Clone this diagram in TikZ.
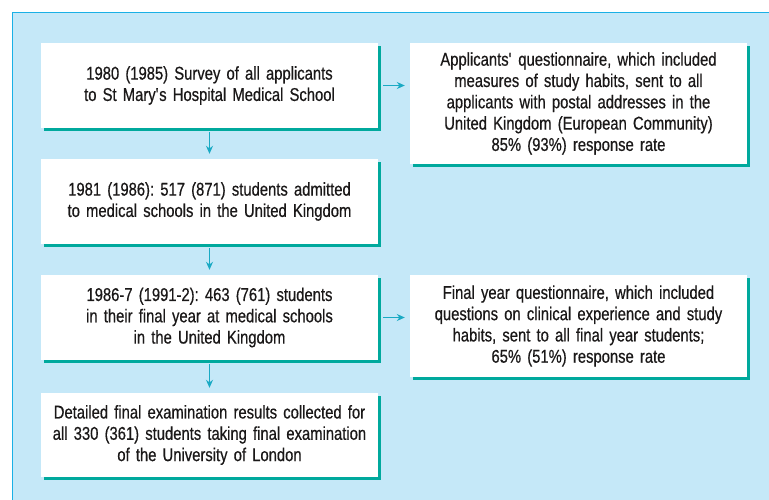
\documentclass[tikz,border=0pt]{standalone}
\usepackage{fontspec}
\setmainfont{Liberation Sans}[FakeStretch=0.8, FakeBold=0.5]
\usetikzlibrary{arrows.meta}
\definecolor{bgblue}{HTML}{C5E8F8}
\definecolor{frameblue}{HTML}{1AB0E6}
\definecolor{shadowteal}{HTML}{00A99D}
\definecolor{arrowteal}{HTML}{1AAAC4}
\definecolor{txt}{HTML}{1A1818}
\frenchspacing
\tikzset{
  flowbox/.style={fill=white, inner sep=0pt, text=txt, align=center,
    font=\fontsize{18.5}{21.3}\selectfont, text width=#1},
  flowbox/.default=330pt,
  arr/.style={draw=arrowteal, line width=1pt, -{Stealth[length=8pt,width=7pt]}},
}
\newcommand{\shadowbox}[6]{% name, cx, cy, w, h, text
  \fill[shadowteal] ({#2-#4/2+3},{#3-#5/2+3}) rectangle ({#2+#4/2+3},{#3+#5/2+3});
  \node[flowbox, minimum width=#4pt, minimum height=#5pt] (#1) at (#2,#3) {#6};
}
\begin{document}
\begin{tikzpicture}[x=1pt,y=-1pt]
\useasboundingbox (0,0) rectangle (769,500);
\fill[white] (0,0) rectangle (769,500);
\fill[bgblue] (12.5,12.5) rectangle (769,500);
\draw[frameblue, line width=1.5pt] (12.5,500) -- (12.5,12.5) -- (769,12.5);

\shadowbox{b1}{209.5}{85.5}{337}{85}{1980 (1985) Survey of all applicants\\to St Mary\textquotesingle s Hospital Medical School}
\shadowbox{b2}{209.5}{201.5}{337}{85}{1981 (1986): 517 (871) students admitted\\to medical schools in the United Kingdom}
\shadowbox{b3}{209.5}{317.5}{337}{85}{1986-7 (1991-2): 463 (761) students\\in their final year at medical schools\\in the United Kingdom}
\shadowbox{b4}{209.5}{435}{337}{84}{Detailed final examination results collected for\\all 330 (361) students taking final examination\\of the University of London}
\shadowbox{r1}{578.5}{103.5}{337}{121}{Applicants\textquotesingle\ questionnaire, which included\\measures of study habits, sent to all\\applicants with postal addresses in the\\United Kingdom (European Community)\\85\% (93\%) response rate}
\shadowbox{r2}{578.5}{326}{337}{102}{Final year questionnaire, which included\\questions on clinical experience and study\\habits, sent to all final year students;\\65\% (51\%) response rate}

\draw[arr, shorten <=4pt, shorten >=5pt] (b1.south) -- (b2.north);
\draw[arr, shorten <=4pt, shorten >=5pt] (b2.south) -- (b3.north);
\draw[arr, shorten <=4pt, shorten >=5pt] (b3.south) -- (b4.north);
\draw[arr, shorten <=5pt, shorten >=5pt] (b1.east) -- (b1.east -| r1.west);
\draw[arr, shorten <=5pt, shorten >=5pt] (b3.east) -- (b3.east -| r2.west);
\end{tikzpicture}
\end{document}
